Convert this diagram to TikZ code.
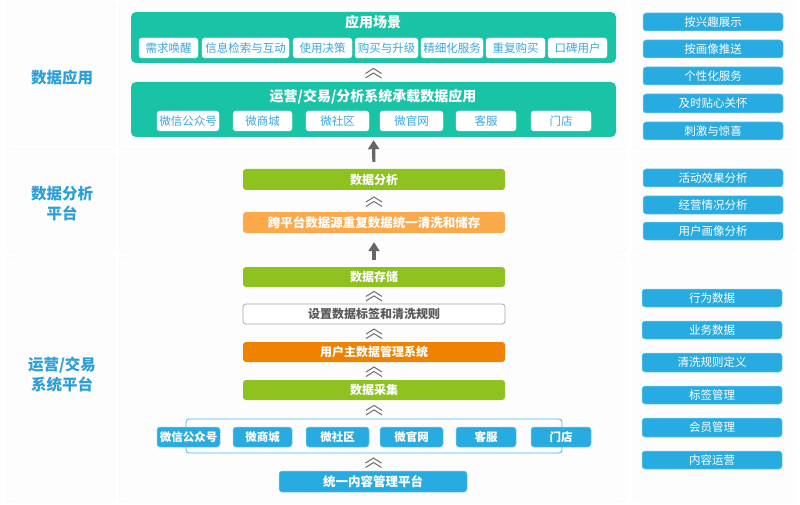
\documentclass[tikz,border=0pt]{standalone}
\usepackage{fontspec}
\setmainfont{Noto Sans CJK SC}
\usetikzlibrary{arrows.meta,calc}
\definecolor{teal1}{HTML}{19C3A6}
\definecolor{blue1}{HTML}{27ABE0}
\definecolor{bluetxt}{HTML}{3AA8DF}
\definecolor{lbl}{HTML}{2B9FD9}
\definecolor{green1}{HTML}{8DC21F}
\definecolor{orangeL}{HTML}{FBA94B}
\definecolor{orangeD}{HTML}{EF8200}
\definecolor{panel}{HTML}{FDFDFD}
\definecolor{paneledge}{HTML}{F8F8F8}
\definecolor{chevc}{HTML}{6E6E6E}
\definecolor{arrc}{HTML}{666666}
\tikzset{
  base/.style={rounded corners=3pt, inner sep=0pt, align=center},
  bigbox/.style={base, rounded corners=5pt, fill=teal1, draw=none},
  title/.style={font=\fontsize{14}{16}\selectfont\bfseries, text=white, inner sep=0pt},
  subw/.style={base, fill=white, draw=white, text=bluetxt, font=\fontsize{11.5}{13}\selectfont},
  greenbox/.style={base, fill=green1, text=white, font=\fontsize{12}{14}\selectfont\bfseries},
  lorange/.style={base, fill=orangeL, text=white, font=\fontsize{12.5}{14}\selectfont\bfseries},
  dorange/.style={base, fill=orangeD, text=white, font=\fontsize{12}{14}\selectfont\bfseries},
  greybox/.style={base, fill=white, draw=black!35, line width=0.7pt, text=black!65, font=\fontsize{12}{14}\selectfont\bfseries},
  bluebox/.style={base, fill=blue1, draw=blue1!60, line width=0.5pt, text=white, font=\fontsize{11.5}{13}\selectfont\bfseries},
  platbox/.style={base, fill=blue1, draw=blue1!60, line width=0.5pt, text=white, font=\fontsize{12.5}{14}\selectfont\bfseries},
  rightbox/.style={base, fill=blue1, draw=blue1!60, line width=0.5pt, text=white, font=\fontsize{11.5}{13}\selectfont},
  sidelabel/.style={text=lbl, font=\fontsize{15.5}{20}\selectfont\bfseries, align=center, inner sep=0pt},
  outline/.style={base, draw=blue1!85, line width=0.8pt, fill=none},
  panelbg/.style={fill=panel, draw=paneledge, line width=0.5pt, rounded corners=4pt},
  chevline/.style={draw=chevc, line width=1.0pt},
  chev/.pic={\draw[chevline] (-8,0) -- (0,-5) -- (8,0); \draw[chevline] (-8,4.5) -- (0,-0.5) -- (8,4.5);},
  bigarrow/.style={draw=arrc, line width=3.2pt, -{Triangle[width=11pt,length=9pt]}}
}
\newcommand{\bx}[7]{\node[#6, minimum width={(#4-#2)*1pt}, minimum height={(#5-#3)*1pt}] (#1) at ({(#2+#4)/2},{(#3+#5)/2}) {#7};}
\begin{document}
\begin{tikzpicture}[x=1pt,y=-1pt]
\useasboundingbox (0,0) rectangle (800,505);
% faint background panels
\path[panelbg] (7,1) rectangle (115,150);
\path[panelbg] (7,153) rectangle (115,253);
\path[panelbg] (7,256) rectangle (115,502);
\path[panelbg] (119,1) rectangle (626,150);
\path[panelbg] (119,153) rectangle (626,253);
\path[panelbg] (119,256) rectangle (626,502);
\path[panelbg] (633,1) rectangle (795,150);
\path[panelbg] (633,153) rectangle (795,253);
\path[panelbg] (633,256) rectangle (795,502);

% side labels
\node[sidelabel] (lab1) at (62,78) {数据应用};
\node[sidelabel] (lab2) at (62,204) {数据分析\\平台};
\node[sidelabel] (lab3) at (62,375) {运营/交易\\系统平台};

% top: scenario box
\bx{scene}{131}{12}{616}{63}{bigbox}{}
\node[title] (scenet) at (373,22) {应用场景};
\bx{s1}{139}{38}{198}{58}{subw}{需求唤醒}
\bx{s2}{202}{38}{289}{58}{subw}{信息检索与互动}
\bx{s3}{293}{38}{352}{58}{subw}{使用决策}
\bx{s4}{355}{38}{418}{58}{subw}{购买与升级}
\bx{s5}{421}{38}{483}{58}{subw}{精细化服务}
\bx{s6}{486}{38}{545}{58}{subw}{重复购买}
\bx{s7}{548}{38}{607}{58}{subw}{口碑用户}

% second box
\bx{app}{131}{82}{616}{137}{bigbox}{}
\node[title] (appt) at (373,97) {运营/交易/分析系统承载数据应用};
\bx{a1}{157}{111}{219}{131}{subw}{微信公众号}
\bx{a2}{233}{111}{292}{131}{subw}{微商城}
\bx{a3}{306}{111}{369}{131}{subw}{微社区}
\bx{a4}{380}{111}{443}{131}{subw}{微官网}
\bx{a5}{456}{111}{516}{131}{subw}{客服}
\bx{a6}{531}{111}{591}{131}{subw}{门店}

% analysis platform
\bx{ana}{243}{169}{505}{190}{greenbox}{数据分析}
\bx{clean}{243}{212}{505}{233}{lorange}{跨平台数据源重复数据统一清洗和储存}
\bx{store}{243}{267}{505}{287}{greenbox}{数据存储}
\bx{tag}{243}{304}{505}{324}{greybox}{设置数据标签和清洗规则}
\bx{mdm}{243}{342}{505}{362}{dorange}{用户主数据管理系统}
\bx{coll}{243}{380}{505}{400}{greenbox}{数据采集}

% channels
\bx{chan}{186}{419}{562}{453}{outline}{}
\bx{c1}{157}{427}{220}{447}{bluebox}{微信公众号}
\bx{c2}{233}{427}{292}{447}{bluebox}{微商城}
\bx{c3}{306}{427}{369}{447}{bluebox}{微社区}
\bx{c4}{380}{427}{443}{447}{bluebox}{微官网}
\bx{c5}{456}{427}{516}{447}{bluebox}{客服}
\bx{c6}{531}{427}{591}{447}{bluebox}{门店}
\bx{cms}{279}{471}{467}{492}{platbox}{统一内容管理平台}

% chevrons
\pic at ($(scene.south)!0.5!(app.north)+(0,1)$) {chev};
\pic at ($(ana.south)!0.5!(clean.north)+(0,1)$) {chev};
\pic at ($(store.south)!0.5!(tag.north)+(0,1)$) {chev};
\pic at ($(tag.south)!0.5!(mdm.north)+(0,1)$) {chev};
\pic at ($(mdm.south)!0.5!(coll.north)+(0,1)$) {chev};
\pic at ($(coll.south)!0.5!(chan.north)+(0,1)$) {chev};
\pic at ($(chan.south)!0.5!(cms.north)+(0,1)$) {chev};

% arrows
\draw[bigarrow, shorten <=7pt, shorten >=3pt] (ana.north) -- (app.south);
\draw[bigarrow, shorten <=7pt, shorten >=9pt] (store.north) -- (clean.south);

% right column
\bx{r1}{643}{13}{783}{31}{rightbox}{按兴趣展示}
\bx{r2}{643}{40}{783}{58}{rightbox}{按画像推送}
\bx{r3}{643}{67}{783}{85}{rightbox}{个性化服务}
\bx{r4}{643}{94}{783}{113}{rightbox}{及时贴心关怀}
\bx{r5}{643}{122}{783}{140}{rightbox}{刺激与惊喜}
\bx{r6}{643}{169}{783}{187}{rightbox}{活动效果分析}
\bx{r7}{643}{196}{783}{214}{rightbox}{经营情况分析}
\bx{r8}{643}{222}{783}{240}{rightbox}{用户画像分析}
\bx{r9}{642}{289}{782}{307}{rightbox}{行为数据}
\bx{r10}{642}{321}{782}{339}{rightbox}{业务数据}
\bx{r11}{642}{353}{782}{372}{rightbox}{清洗规则定义}
\bx{r12}{642}{386}{782}{404}{rightbox}{标签管理}
\bx{r13}{642}{418}{782}{437}{rightbox}{会员管理}
\bx{r14}{642}{451}{782}{469}{rightbox}{内容运营}
\end{tikzpicture}
\end{document}
